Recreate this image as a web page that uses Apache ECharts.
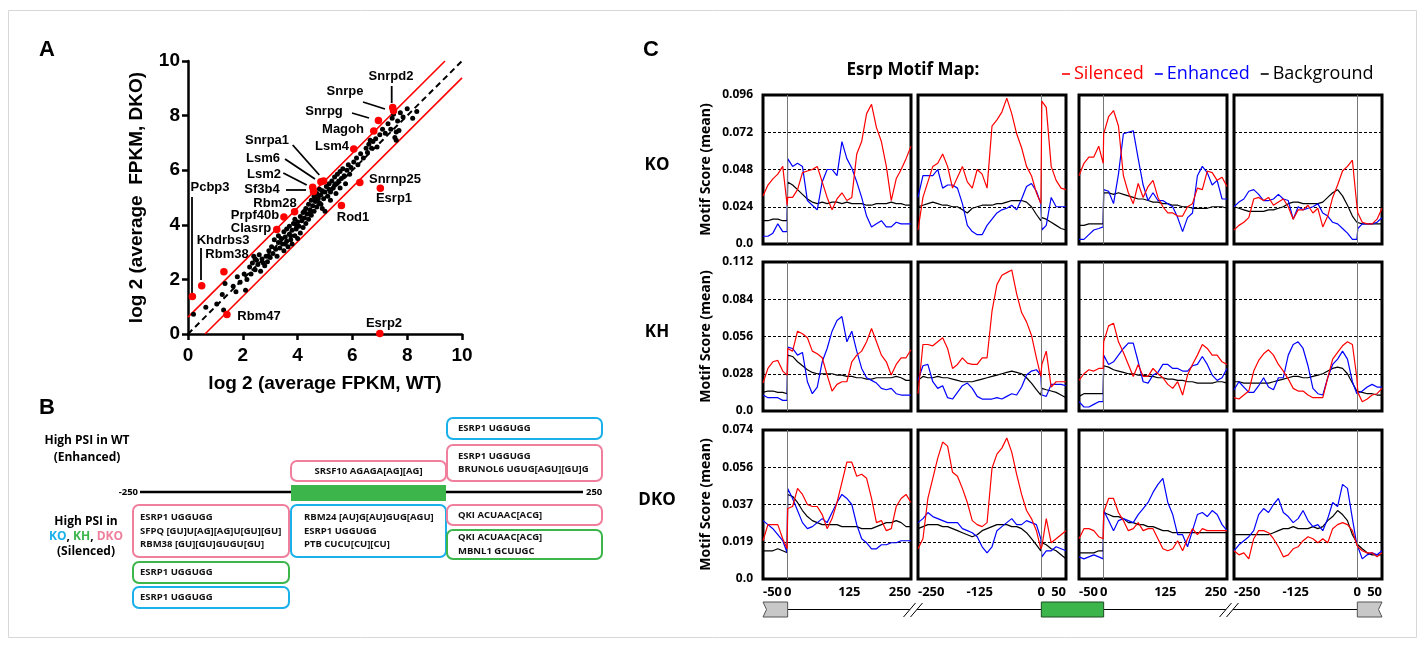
<!DOCTYPE html>
<html lang="en">
<head>
<meta charset="UTF-8">
<title>Esrp figure</title>
<script src="https://cdn.jsdelivr.net/npm/echarts@6.0.0/dist/echarts.min.js"></script>
<style>
  html, body { margin: 0; padding: 0; background: #fff; }
  #main { width: 1420px; height: 646px; }
</style>
</head>
<body>
<div id="main"></div>
<script>
// ---------- panel A data: log2 FPKM, WT (x) vs DKO (y) ----------
var diagLine = [[0, 0], [10, 10]];
var upperBound = [[0, 0.62], [9.38, 10]];
var lowerBound = [[0.62, 0], [10, 9.38]];

var otherGenes = [
  [0.2,0.72],[0.65,0.98],[1.05,1.1],[1.3,0.88],[1.25,1.45],[1.35,1.85],[1.65,1.75],[1.8,2.1],[1.75,1.55],[1.9,1.9],
  [2.05,2.2],[2.1,1.6],[2.15,2.0],[2.25,2.45],[2.3,2.2],[2.35,2.6],[2.4,2.85],[2.45,2.35],[2.5,2.7],[2.55,2.55],
  [2.6,2.9],[2.65,2.3],[2.7,2.75],[2.75,2.6],[2.8,2.5],[2.85,2.85],[2.9,2.65],[2.95,3.05],[3.0,2.8],[3.05,3.2],
  [3.1,2.95],[3.15,3.45],[3.2,3.1],[3.25,2.85],[3.3,3.35],[3.3,3.6],[3.35,3.15],[3.4,3.5],[3.45,3.3],[3.5,3.75],
  [3.5,3.05],[3.55,3.55],[3.6,3.4],[3.6,3.85],[3.65,3.2],[3.7,3.65],[3.7,3.95],[3.75,3.45],[3.8,3.8],[3.8,3.3],
  [3.85,4.05],[3.9,3.6],[3.9,4.2],[3.95,3.85],[4.0,4.1],[4.0,3.5],[4.05,3.95],[4.1,4.3],[4.1,3.7],[4.15,4.15],
  [4.2,4.45],[4.2,3.9],[4.25,4.25],[4.3,4.6],[4.3,4.05],[4.35,4.4],[4.4,4.75],[4.4,4.2],[4.45,4.55],[4.5,4.9],
  [4.5,4.35],[4.55,4.7],[4.6,5.05],[4.6,4.5],[4.65,4.85],[4.7,5.15],[4.7,4.65],[4.75,5.0],[4.8,5.3],[4.8,4.8],
  [4.85,5.1],[4.9,4.6],[4.9,5.25],[4.95,4.95],[5.0,5.2],[5.0,4.5],[5.05,5.4],[5.1,5.05],[5.15,5.5],[5.2,5.2],
  [5.2,4.9],[5.25,5.6],[5.3,5.35],[5.35,5.75],[5.4,5.5],[5.4,5.15],[5.45,5.85],[5.5,5.6],[5.55,5.95],[5.55,5.35],
  [5.6,5.7],[5.65,6.05],[5.7,5.8],[5.75,5.5],[5.8,6.0],[5.85,6.2],[5.9,5.85],[5.95,6.1],[6.05,6.3],[6.15,6.45],
  [6.2,6.2],[6.3,6.6],[6.4,6.45],[6.5,6.8],[6.55,6.65],[6.6,6.95],[6.65,7.1],[6.7,6.8],[6.75,7.05],[6.85,7.15],
  [6.9,6.85],[7.0,7.3],[7.1,7.5],[7.2,7.35],[7.3,7.7],[7.4,7.5],[7.45,7.9],[7.5,8.05],[7.55,7.2],[7.6,7.4],
  [7.65,7.8],[7.75,8.1],[7.85,7.95],[8.0,8.25],[8.2,7.9],[8.35,8.15],[7.6,7.1],[7.7,7.45],[4.75,4.95],[4.85,4.75],
  [4.65,4.95],[3.95,4.0],[4.25,4.5],[2.45,2.75],[3.55,3.3],[5.15,5.3],[5.35,5.45],[4.45,4.4],[3.75,3.6],[2.95,2.85]
];

var redGenes = [
  ['Pcbp3',0.16,1.37],['Khdrbs3',0.50,1.77],['Rbm38',1.31,2.28],['Rbm47',1.42,0.71],
  ['Clasrp',3.24,3.83],['Prpf40b',3.50,4.29],['Rbm28',3.89,4.48],['Sf3b4',4.58,5.22],['Lsm2',4.55,5.38],
  ['Lsm6',4.85,5.58],['Snrpa1',4.95,5.60],['Lsm4',6.05,6.78],['Magoh',6.78,7.44],['Snrpg',6.95,7.82],
  ['Snrpe',7.47,8.30],['Snrpd2',7.50,8.18],['Snrnp25',6.27,5.55],['Esrp1',7.02,5.34],['Rod1',5.60,4.71],['Esrp2',7.00,0.02]
];

// ---------- panel C data: Esrp motif score (mean) ----------
// exon (-50..0) then intron (0..250)
var posExonFirst = [-50,-40,-30,-20,-10,-1,0,10,20,30,40,50,60,70,80,90,100,110,120,130,140,150,160,170,180,190,200,210,220,230,240,250];
// intron (-250..0) then exon (0..50)
var posExonLast = [-250,-240,-230,-220,-210,-200,-190,-180,-170,-160,-150,-140,-130,-120,-110,-100,-90,-80,-70,-60,-50,-40,-30,-20,-10,-1,1,10,20,30,40,50];

var koP1Sil = [0.031,0.038,0.042,0.045,0.050,0.025, 0.030,0.030,0.035,0.046,0.047,0.048,0.050,0.040,0.030,0.022,0.029,0.033,0.028,0.030,0.058,0.066,0.084,0.090,0.075,0.066,0.050,0.028,0.042,0.048,0.055,0.063];
var koP1Enh = [0.005,0.005,0.007,0.013,0.008,0.008, 0.055,0.050,0.052,0.050,0.028,0.025,0.022,0.040,0.048,0.048,0.044,0.066,0.055,0.049,0.040,0.030,0.018,0.011,0.013,0.015,0.011,0.011,0.014,0.013,0.013,0.013];
var koP1Bg  = [0.015,0.015,0.016,0.016,0.015,0.015, 0.040,0.038,0.035,0.032,0.029,0.027,0.026,0.027,0.026,0.027,0.027,0.026,0.027,0.026,0.026,0.026,0.025,0.025,0.026,0.026,0.026,0.027,0.026,0.026,0.025,0.025];
var koP2Sil = [0.009,0.030,0.040,0.050,0.052,0.058,0.050,0.036,0.043,0.050,0.040,0.036,0.048,0.045,0.036,0.076,0.080,0.085,0.094,0.084,0.071,0.062,0.050,0.044,0.033,0.026, 0.092,0.088,0.050,0.041,0.036,0.035];
var koP2Enh = [0.030,0.044,0.044,0.044,0.048,0.036,0.038,0.038,0.036,0.026,0.012,0.008,0.006,0.006,0.012,0.016,0.020,0.022,0.023,0.025,0.022,0.029,0.037,0.039,0.034,0.026, 0.009,0.012,0.030,0.024,0.024,0.024];
var koP2Bg  = [0.024,0.025,0.026,0.027,0.026,0.025,0.025,0.024,0.024,0.022,0.020,0.023,0.024,0.025,0.025,0.025,0.026,0.026,0.027,0.028,0.028,0.028,0.027,0.024,0.019,0.015, 0.017,0.016,0.014,0.012,0.010,0.009];
var koP3Sil = [0.044,0.052,0.056,0.056,0.063,0.052, 0.071,0.082,0.086,0.076,0.044,0.033,0.026,0.039,0.030,0.037,0.041,0.030,0.024,0.020,0.020,0.018,0.018,0.024,0.026,0.036,0.035,0.047,0.046,0.041,0.043,0.037];
var koP3Enh = [0.003,0.003,0.006,0.009,0.010,0.011, 0.035,0.034,0.026,0.045,0.071,0.072,0.073,0.055,0.038,0.028,0.033,0.028,0.028,0.026,0.024,0.017,0.008,0.017,0.020,0.044,0.050,0.046,0.038,0.041,0.029,0.029];
var koP3Bg  = [0.012,0.012,0.013,0.013,0.013,0.013, 0.033,0.033,0.032,0.033,0.032,0.031,0.030,0.029,0.029,0.028,0.027,0.027,0.026,0.026,0.025,0.025,0.024,0.024,0.023,0.023,0.023,0.023,0.024,0.024,0.024,0.023];
var koP4Sil = [0.009,0.012,0.014,0.017,0.029,0.030,0.028,0.030,0.025,0.027,0.029,0.024,0.016,0.022,0.022,0.025,0.020,0.023,0.011,0.018,0.030,0.038,0.047,0.050,0.054,0.025, 0.020,0.014,0.013,0.013,0.016,0.023];
var koP4Enh = [0.024,0.027,0.029,0.034,0.035,0.032,0.028,0.028,0.029,0.032,0.029,0.028,0.016,0.024,0.022,0.023,0.024,0.026,0.020,0.018,0.014,0.013,0.010,0.007,0.003,0.003, 0.010,0.013,0.013,0.013,0.014,0.017];
var koP4Bg  = [0.024,0.023,0.022,0.021,0.021,0.021,0.021,0.022,0.022,0.023,0.024,0.026,0.027,0.027,0.026,0.026,0.026,0.026,0.027,0.030,0.033,0.035,0.031,0.025,0.018,0.014, 0.014,0.013,0.013,0.013,0.013,0.013];

var khP1Sil = [0.021,0.032,0.037,0.038,0.030,0.027, 0.047,0.045,0.060,0.058,0.055,0.045,0.043,0.040,0.027,0.015,0.020,0.022,0.022,0.037,0.042,0.045,0.052,0.062,0.052,0.042,0.037,0.027,0.035,0.040,0.040,0.046];
var khP1Enh = [0.012,0.010,0.010,0.010,0.008,0.008, 0.048,0.047,0.042,0.044,0.022,0.013,0.018,0.037,0.047,0.060,0.068,0.071,0.052,0.060,0.045,0.032,0.025,0.023,0.021,0.017,0.016,0.017,0.013,0.012,0.012,0.012];
var khP1Bg  = [0.014,0.015,0.015,0.014,0.014,0.013, 0.042,0.041,0.037,0.034,0.031,0.029,0.028,0.028,0.028,0.028,0.027,0.027,0.026,0.026,0.025,0.025,0.024,0.024,0.025,0.025,0.025,0.025,0.026,0.025,0.023,0.023];
var khP2Sil = [0.013,0.050,0.050,0.049,0.052,0.055,0.047,0.032,0.035,0.040,0.036,0.035,0.035,0.040,0.040,0.075,0.095,0.102,0.104,0.106,0.088,0.074,0.067,0.057,0.040,0.026, 0.035,0.045,0.018,0.022,0.022,0.022];
var khP2Enh = [0.023,0.034,0.035,0.022,0.017,0.019,0.010,0.009,0.014,0.019,0.021,0.017,0.011,0.009,0.009,0.009,0.010,0.009,0.011,0.013,0.012,0.018,0.027,0.030,0.031,0.027, 0.012,0.011,0.020,0.020,0.020,0.019];
var khP2Bg  = [0.023,0.026,0.025,0.025,0.026,0.025,0.025,0.024,0.023,0.022,0.022,0.022,0.023,0.024,0.025,0.026,0.027,0.028,0.029,0.030,0.029,0.028,0.025,0.021,0.016,0.012, 0.017,0.016,0.015,0.014,0.012,0.010];
var khP3Sil = [0.023,0.028,0.031,0.030,0.032,0.032, 0.052,0.064,0.066,0.052,0.044,0.035,0.026,0.035,0.026,0.026,0.032,0.028,0.025,0.020,0.017,0.022,0.012,0.027,0.035,0.042,0.050,0.047,0.042,0.042,0.037,0.035];
var khP3Enh = [0.007,0.003,0.003,0.005,0.007,0.007, 0.042,0.035,0.037,0.042,0.047,0.051,0.051,0.037,0.022,0.021,0.027,0.029,0.035,0.035,0.032,0.032,0.030,0.030,0.034,0.035,0.041,0.035,0.027,0.023,0.025,0.032];
var khP3Bg  = [0.011,0.013,0.013,0.013,0.013,0.013, 0.034,0.033,0.031,0.030,0.029,0.028,0.028,0.027,0.027,0.026,0.026,0.025,0.025,0.024,0.024,0.023,0.023,0.022,0.022,0.021,0.021,0.021,0.021,0.022,0.022,0.021];
var khP4Sil = [0.010,0.009,0.012,0.015,0.030,0.038,0.043,0.046,0.042,0.035,0.030,0.024,0.017,0.015,0.015,0.012,0.010,0.010,0.010,0.025,0.039,0.044,0.049,0.052,0.050,0.025, 0.014,0.007,0.009,0.012,0.013,0.017];
var khP4Enh = [0.016,0.022,0.018,0.014,0.014,0.019,0.025,0.018,0.016,0.025,0.025,0.042,0.050,0.052,0.047,0.034,0.017,0.013,0.012,0.025,0.035,0.039,0.045,0.039,0.022,0.013, 0.013,0.015,0.018,0.020,0.018,0.018];
var khP4Bg  = [0.022,0.022,0.021,0.021,0.021,0.021,0.021,0.021,0.022,0.023,0.024,0.025,0.026,0.026,0.025,0.025,0.026,0.027,0.028,0.030,0.032,0.033,0.032,0.028,0.021,0.015, 0.014,0.014,0.013,0.013,0.012,0.012];

var dkoP1Sil = [0.019,0.027,0.027,0.027,0.020,0.015, 0.035,0.036,0.045,0.042,0.037,0.036,0.036,0.032,0.025,0.030,0.038,0.048,0.058,0.058,0.051,0.052,0.050,0.040,0.028,0.029,0.024,0.025,0.036,0.040,0.042,0.038];
var dkoP1Enh = [0.029,0.027,0.025,0.022,0.019,0.013, 0.045,0.040,0.034,0.028,0.025,0.026,0.028,0.030,0.028,0.033,0.038,0.042,0.040,0.037,0.027,0.020,0.018,0.015,0.015,0.017,0.017,0.018,0.018,0.019,0.019,0.019];
var dkoP1Bg  = [0.014,0.014,0.014,0.015,0.014,0.013, 0.042,0.041,0.038,0.034,0.031,0.029,0.028,0.027,0.027,0.027,0.027,0.026,0.026,0.026,0.026,0.025,0.025,0.025,0.026,0.027,0.028,0.028,0.029,0.028,0.026,0.026];
var dkoP2Sil = [0.015,0.020,0.040,0.050,0.060,0.068,0.066,0.053,0.051,0.045,0.038,0.029,0.027,0.026,0.028,0.055,0.062,0.065,0.070,0.063,0.052,0.042,0.034,0.030,0.024,0.015, 0.016,0.030,0.018,0.020,0.022,0.024];
var dkoP2Enh = [0.028,0.030,0.033,0.031,0.030,0.029,0.028,0.028,0.028,0.025,0.024,0.023,0.021,0.016,0.013,0.016,0.024,0.026,0.028,0.030,0.027,0.027,0.029,0.028,0.027,0.020, 0.011,0.014,0.014,0.016,0.015,0.014];
var dkoP2Bg  = [0.025,0.026,0.027,0.027,0.027,0.026,0.026,0.025,0.024,0.023,0.022,0.021,0.022,0.024,0.025,0.026,0.027,0.027,0.027,0.026,0.026,0.025,0.023,0.020,0.017,0.014, 0.018,0.017,0.015,0.014,0.012,0.010];
var dkoP3Sil = [0.020,0.025,0.025,0.024,0.021,0.020, 0.033,0.040,0.040,0.033,0.029,0.024,0.025,0.028,0.024,0.025,0.025,0.020,0.015,0.014,0.015,0.019,0.014,0.020,0.025,0.022,0.025,0.024,0.024,0.024,0.024,0.024];
var dkoP3Enh = [0.011,0.010,0.011,0.012,0.011,0.010, 0.034,0.029,0.024,0.029,0.030,0.029,0.028,0.032,0.035,0.038,0.043,0.047,0.050,0.038,0.032,0.022,0.022,0.016,0.024,0.032,0.033,0.031,0.034,0.032,0.027,0.024];
var dkoP3Bg  = [0.013,0.013,0.013,0.013,0.014,0.014, 0.033,0.032,0.031,0.031,0.030,0.028,0.028,0.027,0.027,0.026,0.026,0.025,0.024,0.024,0.023,0.023,0.023,0.023,0.023,0.023,0.023,0.023,0.023,0.023,0.023,0.023];
var dkoP4Sil = [0.014,0.012,0.013,0.010,0.020,0.024,0.024,0.023,0.020,0.016,0.011,0.012,0.015,0.016,0.019,0.021,0.020,0.018,0.020,0.018,0.025,0.027,0.028,0.027,0.024,0.017, 0.016,0.014,0.013,0.013,0.011,0.013];
var dkoP4Enh = [0.014,0.017,0.019,0.021,0.024,0.032,0.035,0.033,0.037,0.040,0.033,0.031,0.028,0.030,0.034,0.029,0.026,0.027,0.024,0.030,0.038,0.036,0.047,0.045,0.030,0.017, 0.016,0.010,0.012,0.013,0.012,0.014];
var dkoP4Bg  = [0.022,0.022,0.022,0.022,0.022,0.022,0.022,0.022,0.023,0.024,0.025,0.025,0.026,0.025,0.025,0.025,0.026,0.025,0.026,0.029,0.031,0.034,0.032,0.029,0.022,0.018, 0.017,0.015,0.013,0.012,0.012,0.012];

var rowNames = ['KO', 'KH', 'DKO'];
var rowMax = [0.096, 0.112, 0.074];
var rowStep = [0.024, 0.028, 0.0185];
var rowTicks = [
  ['0.0', '0.024', '0.048', '0.072', '0.096'],
  ['0.0', '0.028', '0.056', '0.084', '0.112'],
  ['0.0', '0.019', '0.037', '0.056', '0.074']
];
var xRanges = [[-50, 250], [-250, 50], [-50, 250], [-250, 50]];
var xTickLabels = [[-50, 0, 125, 250], [-250, -125, 0, 50], [-50, 0, 125, 250], [-250, -125, 0, 50]];
var panelPos = [posExonFirst, posExonLast, posExonFirst, posExonLast];
var panelSeries = [
  [[koP1Sil, koP1Enh, koP1Bg], [koP2Sil, koP2Enh, koP2Bg], [koP3Sil, koP3Enh, koP3Bg], [koP4Sil, koP4Enh, koP4Bg]],
  [[khP1Sil, khP1Enh, khP1Bg], [khP2Sil, khP2Enh, khP2Bg], [khP3Sil, khP3Enh, khP3Bg], [khP4Sil, khP4Enh, khP4Bg]],
  [[dkoP1Sil, dkoP1Enh, dkoP1Bg], [dkoP2Sil, dkoP2Enh, dkoP2Bg], [dkoP3Sil, dkoP3Enh, dkoP3Bg], [dkoP4Sil, dkoP4Enh, dkoP4Bg]]
];
var seriesNames = ['Silenced', 'Enhanced', 'Background'];
var seriesColors = ['#ff0000', '#0000ff', '#000000'];

// ---------- panel B motif boxes ----------
var motifBoxes = [
  { lines: ['ESRP1 UGGUGG'], kind: 'KO' },
  { lines: ['ESRP1 UGGUGG', 'BRUNOL6 UGUG[AGU][GU]G'], kind: 'DKO' },
  { lines: ['SRSF10 AGAGA[AG][AG]'], kind: 'DKO' },
  { lines: ['ESRP1 UGGUGG', 'SFPQ [GU]U[AG][AG]U[GU][GU]', 'RBM38 [GU][GU]GUGU[GU]'], kind: 'DKO' },
  { lines: ['ESRP1 UGGUGG'], kind: 'KH' },
  { lines: ['ESRP1 UGGUGG'], kind: 'KO' },
  { lines: ['RBM24 [AU]G[AU]GUG[AGU]', 'ESRP1 UGGUGG', 'PTB CUCU[CU][CU]'], kind: 'KO' },
  { lines: ['QKI ACUAAC[ACG]'], kind: 'DKO' },
  { lines: ['QKI ACUAAC[ACG]', 'MBNL1 GCUUGC'], kind: 'KH' }
];

// ---------- layout ----------
var ARI = '"Liberation Sans", Arial, sans-serif';
var CAL = '"Open Sans", "Noto Sans", sans-serif';
var kindColor = { KO: '#1ab0ea', KH: '#3cb54a', DKO: '#ef7f9c' };
var boxRects = [
  [447, 418, 155, 21], [447, 445, 155, 36], [291, 461, 155, 20],
  [133, 505, 156, 52], [133, 562, 156, 21], [133, 587, 156, 21],
  [291, 505, 155, 52], [447, 505, 155, 20], [447, 530, 155, 29]
];
var boxPad = [11, 11, -1, 7, 7, 7, 13, 11, 11];
var colX = [763, 918, 1079, 1234], colW = 148;
var rowY = [95, 262, 430], rowH = 149;

var geneLabelAt = {
  Snrpd2: [391, 76], Snrpe: [345, 91], Snrpg: [324, 111], Magoh: [343, 129], Lsm4: [332, 146],
  Snrpa1: [267, 140], Lsm6: [263, 158], Lsm2: [264, 174], Sf3b4: [262, 189], Rbm28: [275, 203],
  Prpf40b: [255, 215], Clasrp: [251, 228], Khdrbs3: [223, 240], Rbm38: [227, 254], Pcbp3: [210, 187],
  Rbm47: [259, 316], Esrp2: [384, 323], Snrnp25: [395, 179], Esrp1: [394, 198], Rod1: [353, 217]
};
var leaders = [
  [192, 197, 192, 293], [201, 248, 201, 280], [391.7, 86, 391.7, 103], [363, 102, 385, 109],
  [352, 113, 369, 118], [292.7, 145, 319.3, 175], [285, 159, 315, 179], [283.3, 173, 306.7, 185],
  [286, 190, 306, 190]
];

var measureCtx = document.createElement('canvas').getContext('2d');
function textWidth(str, font) { measureCtx.font = font; return measureCtx.measureText(str).width; }
function xPix(c, v) { return colX[c] + (v - xRanges[c][0]) / 300 * colW; }

function txt(x, y, s, font, color, align, rot) {
  return {
    type: 'text', x: x, y: y, rotation: rot || 0, silent: true,
    style: { text: s, font: font, fill: color || '#000', textAlign: align || 'center', textVerticalAlign: 'middle' }
  };
}
function seg(x1, y1, x2, y2, color, w) {
  return { type: 'line', silent: true, shape: { x1: x1, y1: y1, x2: x2, y2: y2 }, style: { stroke: color || '#000', lineWidth: w || 1 } };
}

var graphics = [];
// figure frame
graphics.push({ type: 'rect', silent: true, shape: { x: 8.5, y: 10.5, width: 1408, height: 627 }, style: { fill: 'none', stroke: '#d8d8d8', lineWidth: 1 } });
graphics.push(txt(47, 50, 'A', 'bold 22px ' + ARI));
graphics.push(txt(47, 408, 'B', 'bold 22px ' + ARI));
graphics.push(txt(651, 50, 'C', 'bold 22px ' + ARI));

// panel A labels and leader lines
redGenes.forEach(function (g) {
  var p = geneLabelAt[g[0]];
  graphics.push(txt(p[0], p[1], g[0], 'bold 13px ' + ARI));
});
leaders.forEach(function (l) { graphics.push(seg(l[0], l[1], l[2], l[3], '#000', 1.8)); });

// panel B
var bFont = 'bold 9.5px ' + CAL;
graphics.push(seg(140, 492, 583, 492, '#000', 2.5));
graphics.push({ type: 'rect', silent: true, shape: { x: 291, y: 485, width: 155, height: 16 }, style: { fill: '#3cb54a' } });
graphics.push(txt(138, 492, '-250', bFont, '#000', 'right'));
graphics.push(txt(586, 492, '250', bFont, '#000', 'left'));
var hFont = 'bold 12px ' + CAL;
graphics.push(txt(87, 441, 'High PSI in WT', hFont));
graphics.push(txt(87, 458, '(Enhanced)', hFont));
graphics.push(txt(86, 522, 'High PSI in', hFont));
graphics.push(txt(86, 552, '(Silenced)', hFont));
(function () {
  var parts = [['KO', kindColor.KO], [', ', '#000'], ['KH', kindColor.KH], [', ', '#000'], ['DKO', kindColor.DKO]];
  var total = 0;
  parts.forEach(function (p) { total += textWidth(p[0], hFont); });
  var x = 86 - total / 2;
  parts.forEach(function (p) {
    graphics.push(txt(x, 537, p[0], hFont, p[1], 'left'));
    x += textWidth(p[0], hFont);
  });
})();
motifBoxes.forEach(function (b, i) {
  var r = boxRects[i];
  graphics.push({ type: 'rect', silent: true, shape: { x: r[0], y: r[1], width: r[2], height: r[3], r: 6 },
    style: { fill: '#fff', stroke: kindColor[b.kind], lineWidth: 2 } });
  var lh = 13.5, y0 = r[1] + r[3] / 2 - (b.lines.length - 1) * lh / 2;
  b.lines.forEach(function (s, k) {
    if (boxPad[i] < 0) graphics.push(txt(r[0] + r[2] / 2, y0 + k * lh, s, bFont, '#111', 'center'));
    else graphics.push(txt(r[0] + boxPad[i], y0 + k * lh, s, bFont, '#111', 'left'));
  });
});

// panel C titles
graphics.push(txt(913, 70, 'Esrp Motif Map:', 'bold 17px ' + CAL));
rowNames.forEach(function (n, r) {
  var cy = rowY[r] + rowH / 2;
  graphics.push(txt(657, cy - 4, n, 'bold 17px ' + CAL));
  graphics.push(txt(706, cy, 'Motif Score (mean)', 'bold 14px ' + CAL, '#000', 'center', Math.PI / 2));
});

// panel C gene schematic
(function () {
  var top = 602, bot = 617, mid = 609.5;
  var a0 = xPix(0, -50), a1 = xPix(0, 0);
  var g0 = xPix(1, 0), g1 = xPix(2, 0);
  var d0 = xPix(3, 0), d1 = xPix(3, 50);
  graphics.push(seg(a1, mid, g0, mid, '#000', 1));
  graphics.push(seg(g1, mid, d0, mid, '#000', 1));
  graphics.push({ type: 'polygon', silent: true, shape: { points: [[a0, top], [a1, top], [a1, bot], [a0, bot], [a0 + 3.5, mid]] },
    style: { fill: '#c8c8c8', stroke: '#555', lineWidth: 1 } });
  graphics.push({ type: 'polygon', silent: true, shape: { points: [[d0, top], [d1, top], [d1 - 3.5, mid], [d1, bot], [d0, bot]] },
    style: { fill: '#c8c8c8', stroke: '#555', lineWidth: 1 } });
  graphics.push({ type: 'rect', silent: true, shape: { x: g0, y: top, width: g1 - g0, height: bot - top },
    style: { fill: '#3cb54a', stroke: '#1d4d22', lineWidth: 1 } });
  [ (xPix(0, 250) + xPix(1, -250)) / 2, (xPix(2, 250) + xPix(3, -250)) / 2 ].forEach(function (cx) {
    graphics.push({ type: 'polygon', silent: true, shape: { points: [[cx - 11, bot], [cx + 1, top + 1], [cx + 8, top + 1], [cx - 4, bot]] },
      style: { fill: '#fff' } });
    graphics.push(seg(cx - 11, bot, cx + 1, top + 1, '#000', 1));
    graphics.push(seg(cx - 4, bot, cx + 8, top + 1, '#000', 1));
  });
})();

// ---------- option ----------
var grids = [{ left: 188, top: 61, width: 274, height: 273 }];
var xAxes = [{
  gridIndex: 0, type: 'value', min: 0, max: 10, interval: 2,
  name: 'log 2 (average FPKM, WT)', nameLocation: 'middle', nameGap: 40,
  nameTextStyle: { fontFamily: ARI, fontWeight: 'bold', fontSize: 19, color: '#000' },
  axisLine: { lineStyle: { color: '#000', width: 2.5 } },
  axisTick: { length: 6, lineStyle: { color: '#000', width: 2.5 } },
  axisLabel: { fontFamily: ARI, fontWeight: 'bold', fontSize: 19, color: '#000', margin: 12 },
  splitLine: { show: false }
}];
var yAxes = [{
  gridIndex: 0, type: 'value', min: 0, max: 10, interval: 2,
  name: 'log 2 (average  FPKM, DKO)', nameLocation: 'middle', nameGap: 42,
  nameTextStyle: { fontFamily: ARI, fontWeight: 'bold', fontSize: 19, color: '#000' },
  axisLine: { lineStyle: { color: '#000', width: 2.5 } },
  axisTick: { length: 6, lineStyle: { color: '#000', width: 2.5 } },
  axisLabel: { fontFamily: ARI, fontWeight: 'bold', fontSize: 19, color: '#000', margin: 8 },
  splitLine: { show: false }
}];
var series = [
  { name: 'y = x', type: 'line', xAxisIndex: 0, yAxisIndex: 0, data: diagLine, showSymbol: false, silent: true,
    lineStyle: { color: '#000', width: 2, type: [6, 4] }, z: 1 },
  { name: 'upper', type: 'line', xAxisIndex: 0, yAxisIndex: 0, data: upperBound, showSymbol: false, silent: true,
    lineStyle: { color: '#ff0000', width: 1.6 }, z: 1 },
  { name: 'lower', type: 'line', xAxisIndex: 0, yAxisIndex: 0, data: lowerBound, showSymbol: false, silent: true,
    lineStyle: { color: '#ff0000', width: 1.6 }, z: 1 },
  { name: 'genes', type: 'scatter', xAxisIndex: 0, yAxisIndex: 0, data: otherGenes, symbolSize: 5,
    itemStyle: { color: '#000', opacity: 1 }, z: 3 },
  { name: 'splicing factors', type: 'scatter', xAxisIndex: 0, yAxisIndex: 0,
    data: redGenes.map(function (g) { return { name: g[0], value: [g[1], g[2]] }; }),
    symbolSize: 7.5, itemStyle: { color: '#ff0000', opacity: 1 }, z: 4 }
];

for (var r = 0; r < 3; r++) {
  for (var c = 0; c < 4; c++) {
    var gi = grids.length;
    grids.push({ left: colX[c], top: rowY[r], width: colW, height: rowH, show: true,
      borderColor: '#000', borderWidth: 3, backgroundColor: 'transparent' });
    (function (r, c) {
      xAxes.push({
        gridIndex: gi, type: 'value', min: xRanges[c][0], max: xRanges[c][1], interval: 25,
        axisLine: { show: false }, axisTick: { show: false }, splitLine: { show: false },
        axisLabel: {
          show: r === 2, margin: 7, fontFamily: CAL, fontWeight: 'bold', fontSize: 13, color: '#000',
          showMinLabel: true, showMaxLabel: true, alignMinLabel: 'left', alignMaxLabel: 'right',
          formatter: function (v) { return xTickLabels[c].indexOf(Math.round(v)) >= 0 ? String(Math.round(v)) : ''; }
        }
      });
      yAxes.push({
        gridIndex: gi, type: 'value', min: 0, max: rowMax[r], interval: rowStep[r],
        axisLine: { show: false }, axisTick: { show: false },
        splitLine: { show: true, lineStyle: { color: '#000', width: 1, type: [3, 2] } },
        axisLabel: {
          show: c === 0, margin: 10, fontFamily: CAL, fontWeight: 'bold', fontSize: 12, color: '#000',
          showMinLabel: true, showMaxLabel: true,
          formatter: function (v) { return rowTicks[r][Math.round(v / rowStep[r])]; }
        }
      });
      [2, 1, 0].forEach(function (k) {
        var vals = panelSeries[r][c][k];
        var s = {
          name: seriesNames[k], type: 'line', xAxisIndex: gi, yAxisIndex: gi,
          data: panelPos[c].map(function (x, i) { return [x, vals[i]]; }),
          showSymbol: false, symbol: 'none', silent: true,
          lineStyle: { color: seriesColors[k], width: 1.2 }, itemStyle: { color: seriesColors[k] }, z: 3 + (2 - k)
        };
        if (k === 2) {
          s.markLine = { silent: true, symbol: ['none', 'none'], label: { show: false },
            lineStyle: { color: '#777', width: 1, type: 'solid' }, data: [{ xAxis: 0 }] };
        }
        series.push(s);
      });
    })(r, c);
  }
}

var option = {
  animation: false,
  backgroundColor: '#fff',
  legend: {
    left: 1057, top: 60, icon: 'rect', itemWidth: 8, itemHeight: 1.6, itemGap: 11, selectedMode: false,
    textStyle: { fontFamily: CAL, fontSize: 18, padding: [0, 0, 0, -1] },
    data: [
      { name: 'Silenced', textStyle: { color: '#ff0000' } },
      { name: 'Enhanced', textStyle: { color: '#0000ff' } },
      { name: 'Background', textStyle: { color: '#000000' } }
    ]
  },
  grid: grids,
  xAxis: xAxes,
  yAxis: yAxes,
  series: series,
  graphic: { elements: graphics }
};

var chart = echarts.init(document.getElementById('main'));
chart.setOption(option);
</script>
</body>
</html>
